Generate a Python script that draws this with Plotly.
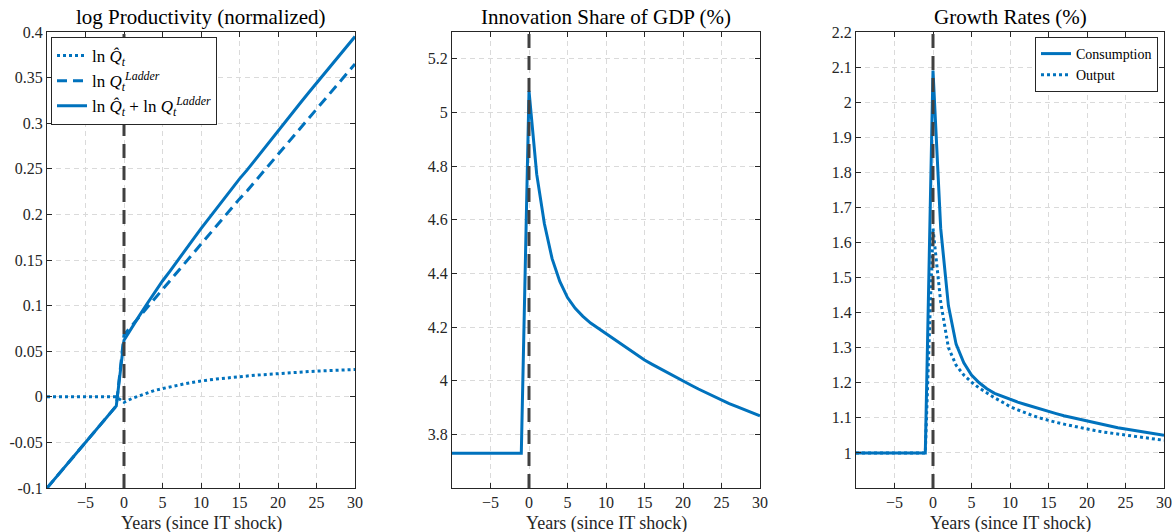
import plotly.graph_objects as go

# ---- data -------------------------------------------------------------
years = list(range(-10, 31))
shock_year = 0

ln_q_hat = [0.000, 0.000, 0.000, 0.000, 0.000, 0.000, 0.000, 0.000, 0.000, 0.000,
            -0.006, -0.002, 0.001, 0.004, 0.007, 0.009, 0.011, 0.013, 0.0145, 0.016,
            0.0175, 0.0185, 0.0195, 0.0205, 0.0213, 0.022, 0.0228, 0.0236, 0.0243, 0.025,
            0.0256, 0.0262, 0.0267, 0.0272, 0.0277, 0.0281, 0.0285, 0.0289, 0.0293, 0.0297,
            0.030]

ln_q_ladder = [-0.100, -0.090, -0.080, -0.070, -0.060, -0.050, -0.040, -0.030, -0.020, -0.010,
               0.068, 0.078, 0.088, 0.098, 0.108, 0.118, 0.127, 0.137, 0.147, 0.157,
               0.167, 0.177, 0.187, 0.197, 0.207, 0.217, 0.226, 0.236, 0.246, 0.256,
               0.266, 0.276, 0.286, 0.296, 0.306, 0.316, 0.325, 0.335, 0.345, 0.355,
               0.365]

innovation_share = [3.73, 3.73, 3.73, 3.73, 3.73, 3.73, 3.73, 3.73, 3.73, 3.73,
                    5.08, 4.77, 4.585, 4.455, 4.37, 4.31, 4.27, 4.24, 4.215, 4.195,
                    4.175, 4.155, 4.135, 4.115, 4.096, 4.077, 4.061, 4.045, 4.03, 4.014,
                    3.999, 3.984, 3.969, 3.955, 3.941, 3.928, 3.915, 3.903, 3.891, 3.880,
                    3.869]

consumption_growth = [1.0, 1.0, 1.0, 1.0, 1.0, 1.0, 1.0, 1.0, 1.0, 1.0,
                      2.09, 1.64, 1.42, 1.31, 1.257, 1.222, 1.200, 1.183, 1.170, 1.161,
                      1.153, 1.145, 1.138, 1.131, 1.124, 1.118, 1.112, 1.106, 1.101, 1.095,
                      1.090, 1.086, 1.081, 1.077, 1.072, 1.068, 1.064, 1.060, 1.057, 1.053,
                      1.050]

output_growth = [1.0, 1.0, 1.0, 1.0, 1.0, 1.0, 1.0, 1.0, 1.0, 1.0,
                 1.64, 1.43, 1.30, 1.25, 1.222, 1.202, 1.185, 1.170, 1.157, 1.145,
                 1.132, 1.123, 1.114, 1.106, 1.099, 1.092, 1.087, 1.082, 1.077, 1.072,
                 1.068, 1.064, 1.060, 1.057, 1.053, 1.050, 1.047, 1.044, 1.041, 1.038,
                 1.036]

ln_q_total = [a + b for a, b in zip(ln_q_hat, ln_q_ladder)]

x_ticks = [-5, 0, 5, 10, 15, 20, 25, 30]
y1_ticks = [-0.1, -0.05, 0, 0.05, 0.1, 0.15, 0.2, 0.25, 0.3, 0.35, 0.4]
y1_labels = ["-0.1", "-0.05", "0", "0.05", "0.1", "0.15", "0.2", "0.25", "0.3", "0.35", "0.4"]
y2_ticks = [3.8, 4.0, 4.2, 4.4, 4.6, 4.8, 5.0, 5.2]
y2_labels = ["3.8", "4", "4.2", "4.4", "4.6", "4.8", "5", "5.2"]
y3_ticks = [1.0, 1.1, 1.2, 1.3, 1.4, 1.5, 1.6, 1.7, 1.8, 1.9, 2.0, 2.1, 2.2]
y3_labels = ["1", "1.1", "1.2", "1.3", "1.4", "1.5", "1.6", "1.7", "1.8", "1.9", "2", "2.1", "2.2"]

titles = ["log Productivity (normalized)", "Innovation Share of GDP (%)", "Growth Rates (%)"]
x_label = "Years (since IT shock)"

# ---- styling -------------------------------------------------------------
W, H = 1172, 532
BLUE = "#0072BD"
AX = "#262626"
FONT = "Liberation Serif, DejaVu Serif, serif"
LW = 3

panels_px = [(47, 355), (452, 760), (856, 1164)]
top_px, bot_px = 32, 488
ydom = [1 - bot_px / H, 1 - top_px / H]

fig = go.Figure()

# panel 1
fig.add_trace(go.Scatter(x=years, y=ln_q_hat, mode="lines", name="ln <i>Q̂</i><sub><i>t</i></sub>",
                         line=dict(color=BLUE, width=LW, dash="dot"), xaxis="x", yaxis="y", legend="legend"))
fig.add_trace(go.Scatter(x=years, y=ln_q_ladder, mode="lines",
                         name="ln <i>Q</i><sub><i>t</i></sub><sup><i>Ladder</i></sup>",
                         line=dict(color=BLUE, width=LW, dash="10px,6px"), xaxis="x", yaxis="y", legend="legend"))
fig.add_trace(go.Scatter(x=years, y=ln_q_total, mode="lines",
                         name="ln <i>Q̂</i><sub><i>t</i></sub> + ln <i>Q</i><sub><i>t</i></sub><sup><i>Ladder</i></sup>",
                         line=dict(color=BLUE, width=LW), xaxis="x", yaxis="y", legend="legend"))

# panel 2
fig.add_trace(go.Scatter(x=years, y=innovation_share, mode="lines", showlegend=False,
                         line=dict(color=BLUE, width=LW), xaxis="x2", yaxis="y2"))

# panel 3
fig.add_trace(go.Scatter(x=years, y=consumption_growth, mode="lines", name="Consumption",
                         line=dict(color=BLUE, width=LW), xaxis="x3", yaxis="y3", legend="legend2"))
fig.add_trace(go.Scatter(x=years, y=output_growth, mode="lines", name="Output",
                         line=dict(color=BLUE, width=LW, dash="dot"), xaxis="x3", yaxis="y3", legend="legend2"))

# shock marker in each panel
for i in range(3):
    sfx = "" if i == 0 else str(i + 1)
    fig.add_shape(type="line", xref="x" + sfx, yref="y" + sfx + " domain",
                  x0=shock_year, x1=shock_year, y0=0, y1=1,
                  line=dict(color="#404040", width=3, dash="14px,8px"), layer="above")

axis_common = dict(
    showline=True, linecolor=AX, linewidth=1, mirror="ticks",
    ticks="inside", ticklen=5, tickwidth=1, tickcolor=AX,
    showgrid=True, gridcolor="#DADADA", gridwidth=1, griddash="5px,4px",
    zeroline=False, automargin=False, tickfont=dict(family=FONT, size=16, color=AX),
)

y_specs = [([-0.1, 0.4], y1_ticks, y1_labels),
           ([3.6, 5.3], y2_ticks, y2_labels),
           ([0.9, 2.2], y3_ticks, y3_labels)]

layout = {}
for i, ((l, r), (yr, yt, yl)) in enumerate(zip(panels_px, y_specs)):
    sfx = "" if i == 0 else str(i + 1)
    layout["xaxis" + sfx] = dict(domain=[l / W, r / W], range=[-10, 30], tickvals=x_ticks,
                                 anchor="y" + sfx, **axis_common)
    layout["yaxis" + sfx] = dict(domain=ydom, range=yr, tickvals=yt, ticktext=yl,
                                 anchor="x" + sfx, **axis_common)

annotations = []
for (l, r), t in zip(panels_px, titles):
    cx = (l + r) / 2 / W
    annotations.append(dict(text=t, x=cx, y=1 - 17 / H, xref="paper", yref="paper",
                            xanchor="center", yanchor="middle", showarrow=False,
                            font=dict(family=FONT, size=21, color="#000000")))
    annotations.append(dict(text=x_label, x=cx, y=1 - 523 / H, xref="paper", yref="paper",
                            xanchor="center", yanchor="middle", showarrow=False,
                            font=dict(family=FONT, size=18, color=AX)))

fig.update_layout(
    autosize=False, width=W, height=H, margin=dict(l=0, r=0, t=0, b=0, pad=0, autoexpand=False),
    paper_bgcolor="white", plot_bgcolor="white",
    annotations=annotations,
    legend=dict(x=51 / W, y=1 - 37 / H, xanchor="left", yanchor="top",
                bgcolor="white", bordercolor=AX, borderwidth=1, itemwidth=30,
                font=dict(family=FONT, size=17, color="#000000"), tracegroupgap=0),
    legend2=dict(x=1158 / W, y=1 - 37 / H, xanchor="right", yanchor="top",
                 bgcolor="white", bordercolor=AX, borderwidth=1, itemwidth=30,
                 font=dict(family=FONT, size=14, color="#000000"), tracegroupgap=0),
    **layout,
)

fig.write_html("out.html", config={"responsive": False})
